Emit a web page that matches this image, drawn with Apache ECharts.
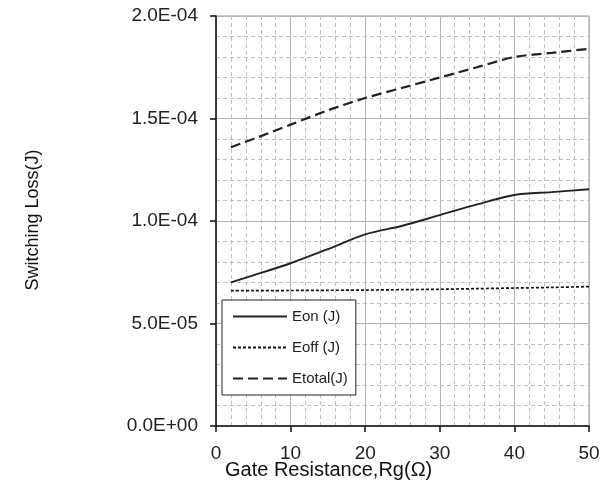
<!DOCTYPE html>
<html>
<head>
<meta charset="utf-8">
<script src="https://cdn.jsdelivr.net/npm/echarts@6/dist/echarts.min.js"></script>
<style>
  html, body { margin: 0; padding: 0; background: #fff; }
  #chart { width: 608px; height: 489px; }
</style>
</head>
<body>
<div id="chart"></div>
<script>
// Gate resistance (ohm)
const rg = [2, 5, 10, 15, 20, 25, 30, 35, 40, 45, 50];
// Switching energies (J)
const eon    = [7.01e-5, 7.35e-5, 7.94e-5, 8.63e-5, 9.35e-5, 9.77e-5, 1.029e-4, 1.081e-4, 1.127e-4, 1.141e-4, 1.155e-4];
const eoff   = [6.60e-5, 6.60e-5, 6.61e-5, 6.62e-5, 6.63e-5, 6.65e-5, 6.67e-5, 6.70e-5, 6.73e-5, 6.76e-5, 6.80e-5];
const etotal = [1.36e-4, 1.40e-4, 1.47e-4, 1.54e-4, 1.60e-4, 1.65e-4, 1.70e-4, 1.75e-4, 1.80e-4, 1.82e-4, 1.84e-4];
const seriesNames = ['Eon (J)', 'Eoff (J)', 'Etotal(J)'];

const FONT = 'Arial, "Liberation Sans", sans-serif';

function sci(v) {
  if (Math.abs(v) < 1e-12) return '0.0E+00';
  const e = Math.floor(Math.log10(Math.abs(v)) + 1e-9);
  const m = v / Math.pow(10, e);
  return m.toFixed(1) + 'E' + (e < 0 ? '-' : '+') + String(Math.abs(e)).padStart(2, '0');
}

function pairs(ys) { return rg.map((x, i) => [x, ys[i]]); }

const chart = echarts.init(document.getElementById('chart'), null, { renderer: 'canvas' });

chart.setOption({
  animation: false,
  backgroundColor: '#fff',
  grid: {
    left: 216, right: 19, top: 16, bottom: 63,
    show: true, borderColor: '#9a9a9a', borderWidth: 1
  },
  xAxis: {
    type: 'value', min: 0, max: 50, interval: 10,
    axisLine: { show: true, lineStyle: { color: '#111', width: 1.5 } },
    axisTick: { show: true, length: 6, lineStyle: { color: '#111', width: 1.5 } },
    axisLabel: { color: '#222', fontSize: 19, fontFamily: FONT, margin: 18 },
    splitLine: { show: true, lineStyle: { color: '#b4b4b4', width: 1 } },
    minorTick: { show: false, splitNumber: 5 },
    minorSplitLine: { show: true, lineStyle: { color: '#c0c0c0', width: 1, type: [4, 3] } }
  },
  yAxis: {
    type: 'value', min: 0, max: 2e-4, interval: 5e-5,
    axisLine: { show: true, lineStyle: { color: '#111', width: 1.5 } },
    axisTick: { show: true, length: 6, lineStyle: { color: '#111', width: 1.5 } },
    axisLabel: { color: '#222', fontSize: 19, fontFamily: FONT, margin: 18, formatter: sci },
    splitLine: { show: true, lineStyle: { color: '#b4b4b4', width: 1 } },
    minorTick: { show: false, splitNumber: 5 },
    minorSplitLine: { show: true, lineStyle: { color: '#c0c0c0', width: 1, type: [4, 3] } }
  },
  legend: {
    orient: 'vertical',
    left: 222, top: 300,
    padding: [9, 8, 9, 10],
    itemWidth: 54, itemHeight: 14, itemGap: 16,
    backgroundColor: '#fff',
    borderColor: '#222', borderWidth: 1,
    itemStyle: { opacity: 0 },
    textStyle: { color: '#222', fontSize: 15, fontFamily: FONT },
    data: seriesNames
  },
  graphic: [
    {
      type: 'text', left: 225, top: 460,
      style: { text: 'Gate Resistance,Rg(Ω)', fill: '#111', font: '20px ' + FONT }
    },
    {
      type: 'text', x: 33, y: 220, rotation: Math.PI / 2,
      style: { text: 'Switching Loss(J)', fill: '#111', font: '18px ' + FONT, align: 'center', verticalAlign: 'middle' }
    }
  ],
  series: [
    {
      name: seriesNames[0], type: 'line', data: pairs(eon), smooth: 0.3,
      symbol: 'none', lineStyle: { color: '#222', width: 1.9, type: 'solid' }, itemStyle: { color: '#222' }
    },
    {
      name: seriesNames[1], type: 'line', data: pairs(eoff), smooth: 0.3,
      symbol: 'none', lineStyle: { color: '#111', width: 1.7, type: [3, 2] }, itemStyle: { color: '#111' }
    },
    {
      name: seriesNames[2], type: 'line', data: pairs(etotal), smooth: 0.3,
      symbol: 'none', lineStyle: { color: '#222', width: 2.2, type: [10, 5] }, itemStyle: { color: '#222' }
    }
  ]
});
</script>
</body>
</html>
